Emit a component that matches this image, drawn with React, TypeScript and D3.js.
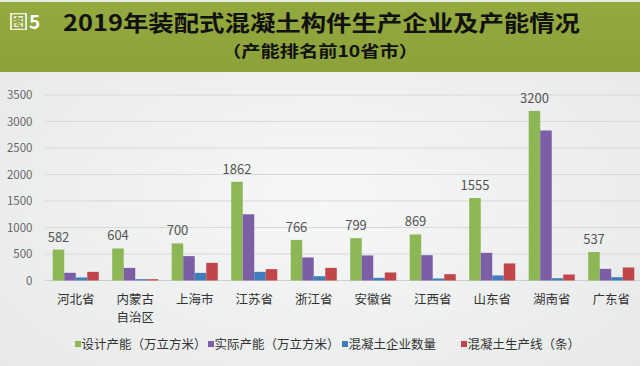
import React from "react";
import * as d3 from "d3";

const categories = ["河北省", "内蒙古\n自治区", "上海市", "江苏省", "浙江省", "安徽省", "江西省", "山东省", "湖南省", "广东省"];
const seriesNames = ["设计产能（万立方米）", "实际产能（万立方米）", "混凝土企业数量", "混凝土生产线（条）"];
const designCapacity = [582, 604, 700, 1862, 766, 799, 869, 1555, 3200, 537];
const actualCapacity = [145, 238, 460, 1249, 435, 473, 478, 522, 2830, 220];
const enterpriseCount = [57, 25, 144, 163, 81, 50, 38, 95, 43, 62];
const productionLines = [163, 25, 333, 214, 238, 151, 119, 322, 113, 246];
const yTicks = [0, 500, 1000, 1500, 2000, 2500, 3000, 3500];
const colors = ["#8db654", "#7c5ea6", "#3f7dbd", "#c0464a"];
const legendX = [75, 208, 342, 461];

export default function App() {
  const W = 640, H = 366;
  const series = [designCapacity, actualCapacity, enterpriseCount, productionLines];
  const x0 = d3.scaleBand<string>().domain(categories).range([46, 641]).paddingInner(0.226).paddingOuter(0.113);
  const x1 = d3.scaleBand<number>().domain([0, 1, 2, 3]).range([0, x0.bandwidth()]).padding(0);
  const y = d3.scaleLinear().domain([0, 3500]).range([280.5, 95]);
  const font = "'Noto Sans CJK SC', 'Noto Sans', sans-serif";

  return (
    <svg width={W} height={H} style={{ position: "absolute", left: 0, top: 0, display: "block" }} fontFamily={font}>
      <defs>
        <radialGradient id="bg" cx="50%" cy="55%" r="70%">
          <stop offset="0%" stopColor="#f6f7f7" />
          <stop offset="100%" stopColor="#e7e9e9" />
        </radialGradient>
        <linearGradient id="band" x1="0" y1="0" x2="0" y2="1">
          <stop offset="0%" stopColor="#94a93e" />
          <stop offset="100%" stopColor="#8ca23a" />
        </linearGradient>
      </defs>
      <rect x={0} y={0} width={W} height={H} fill="url(#bg)" />
      <rect x={0} y={2} width={W} height={70} fill="url(#band)" />
      {/* title */}
      <rect x={10} y={13} width={17} height={17} fill="#eef0d8" />
      <text x={18.5} y={27} fontSize={15} fontWeight={700} fill="#8ca23a" textAnchor="middle">图</text>
      <text x={29} y={29} fontSize={19} fontWeight={700} fill="#ffffff">5</text>
      <text x={63} y={31} fontSize={22} fontWeight={700} fill="#111" textLength={517} lengthAdjust="spacingAndGlyphs">2019年装配式混凝土构件生产企业及产能情况</text>
      <text x={222} y={57} fontSize={16} fontWeight={700} fill="#111" textLength={196} lengthAdjust="spacingAndGlyphs">（产能排名前10省市）</text>

      {/* grid */}
      {yTicks.map((t) => (
        <g key={t}>
          <line x1={45} x2={640} y1={y(t)} y2={y(t)} stroke={t === 0 ? "#cfcfcf" : "#d8dada"} strokeWidth={1.2} />
          <text x={32.5} y={y(t) + 4} fontSize={11.5} fill="#666" textAnchor="end">{t}</text>
        </g>
      ))}

      {/* bars */}
      {categories.map((c, i) => (
        <g key={c} transform={`translate(${x0(c)},0)`}>
          {series.map((s, k) => (
            <rect key={k} x={x1(k)} y={y(s[i])} width={x1.bandwidth()} height={y(0) - y(s[i])} fill={colors[k]} />
          ))}
          <text x={(x1(0) as number) + x1.bandwidth() / 2} y={y(designCapacity[i]) - 8} fontSize={13} fill="#555" textAnchor="middle">{designCapacity[i]}</text>
          {c.split("\n").map((line, j) => (
            <text key={j} x={x0.bandwidth() / 2} y={304 + j * 18.3} fontSize={12.5} fill="#333" textAnchor="middle">{line}</text>
          ))}
        </g>
      ))}

      {/* legend */}
      {seriesNames.map((n, k) => (
        <g key={n}>
          <rect x={legendX[k]} y={341} width={6} height={6} fill={colors[k]} />
          <text x={legendX[k] + 6.5} y={348.5} fontSize={12.5} fill="#333">{n}</text>
        </g>
      ))}
    </svg>
  );
}
